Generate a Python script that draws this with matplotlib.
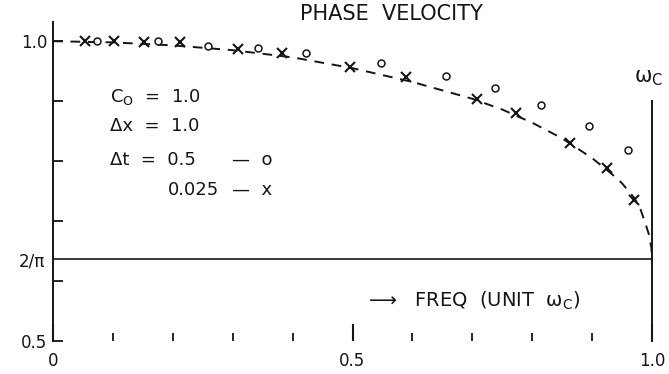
import numpy as np
import matplotlib
matplotlib.use("Agg")
import matplotlib.pyplot as plt

# dashed reference curve (frequency in units of w_c, phase velocity)
curve_f = [0.0, 0.1, 0.2, 0.3, 0.4, 0.5, 0.6, 0.7, 0.75, 0.8, 0.85,
           0.9, 0.93, 0.95, 0.97, 0.98, 0.99, 0.995, 0.999, 1.0]
curve_v = [1.0, 0.998, 0.993, 0.985, 0.973, 0.955, 0.932, 0.904, 0.886, 0.864, 0.838,
           0.805, 0.781, 0.763, 0.739, 0.722, 0.693, 0.677, 0.655, 0.637]

# dt = 0.025 (x markers)
dt_small_f = [0.053, 0.102, 0.152, 0.212, 0.309, 0.382, 0.496, 0.589, 0.708, 0.773, 0.863, 0.925, 0.970]
dt_small_v = [1.0, 1.0, 0.999, 0.998, 0.987, 0.98, 0.957, 0.94, 0.903, 0.88, 0.83, 0.788, 0.735]

# dt = 0.5 (o markers)
dt_big_f = [0.073, 0.176, 0.259, 0.342, 0.423, 0.548, 0.656, 0.738, 0.815, 0.894, 0.960]
dt_big_v = [1.0, 1.0, 0.992, 0.988, 0.98, 0.963, 0.942, 0.922, 0.893, 0.858, 0.818]

cutoff = 2 / np.pi
ink = "#151515"

fig = plt.figure(figsize=(6.69, 3.74), dpi=100)
ax = fig.add_axes([53 / 669, 33 / 374, 599 / 669, 319 / 374])
ax.set_xlim(0, 1.0)
ax.set_ylim(0.5, 1.032)

ax.plot(curve_f, curve_v, ls=(0, (5, 4)), color=ink, lw=1.4)
ax.plot(dt_small_f, dt_small_v, ls="none", marker="x", ms=7, mew=1.5, color=ink)
ax.plot(dt_big_f, dt_big_v, ls="none", marker="o", ms=5, mew=1.1, mfc="white", mec=ink)

# 2/pi level and cutoff line
ax.plot([0, 1.0], [cutoff, cutoff], color=ink, lw=1.2)
ax.plot([1.0, 1.0], [0.5, 0.9], color=ink, lw=1.4, clip_on=False)

for side in ["top", "right", "bottom"]:
    ax.spines[side].set_visible(False)
ax.spines["left"].set_color(ink)
ax.spines["left"].set_linewidth(1.4)

ax.set_yticks([0.5, 0.6, 0.7, 0.8, 0.9, 1.0], ["0.5", "", "", "", "", "1.0"])
ax.set_yticks([cutoff], ["2/π"], minor=True)
ax.tick_params(axis="y", which="major", direction="in", length=7, width=1.3,
               color=ink, labelsize=12, pad=4, labelcolor=ink)
ax.tick_params(axis="y", which="minor", length=0, labelsize=12, pad=6, labelcolor=ink)

ax.set_xticks([0, 0.5, 1.0], ["0", "0.5", "1.0"])
ax.set_xticks([0.1, 0.2, 0.3, 0.4, 0.6, 0.7, 0.8, 0.9], minor=True)
ax.tick_params(axis="x", which="major", direction="in", length=12, width=1.5,
               color=ink, labelsize=12, pad=8, labelcolor=ink)
ax.tick_params(axis="x", which="minor", direction="in", length=6, width=1.3, color=ink)

fig.text(391 / 669, 1 - 14 / 374, "PHASE  VELOCITY", ha="center", va="center",
         fontsize=15, color=ink)

txt = dict(fontsize=13, color=ink, va="center", ha="left")
ax.text(0.095, 0.907, r"C$_\mathregular{O}$  =  1.0", **txt)
ax.text(0.095, 0.858, "Δx  =  1.0", **txt)
ax.text(0.095, 0.802, "Δt  =  0.5", **txt)
ax.text(0.192, 0.752, "0.025", **txt)
ax.text(0.298, 0.802, "—  o", **txt)
ax.text(0.298, 0.752, "—  x", **txt)

ax.text(0.526, 0.567, "⟶   FREQ  (UNIT  ω$_\\mathregular{C}$)", fontsize=14,
        color=ink, va="center", ha="left")
ax.text(0.970, 0.938, "ω$_\\mathregular{C}$", fontsize=15, color=ink,
        va="center", ha="left", clip_on=False)

fig.savefig("out.png", dpi=100)
